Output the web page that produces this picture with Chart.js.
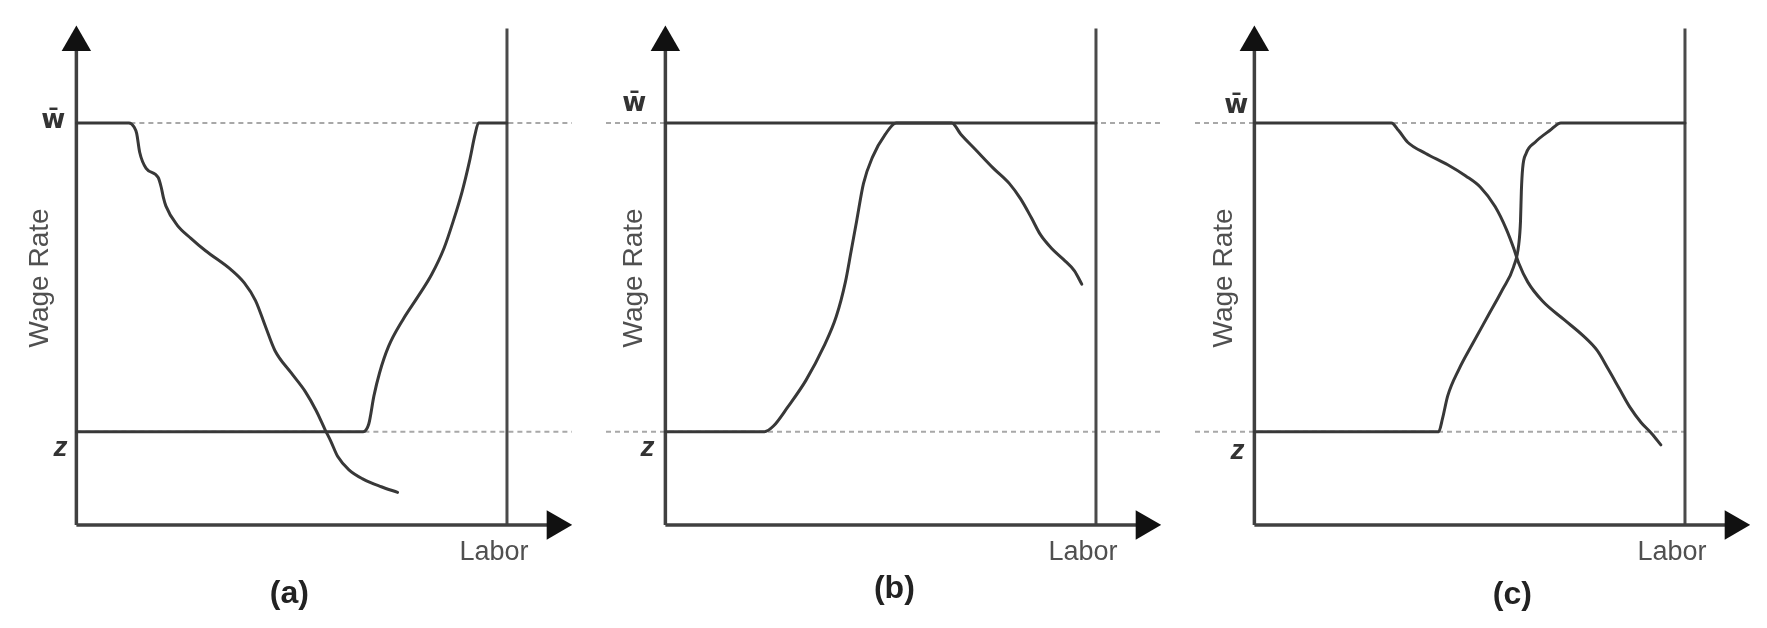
<!DOCTYPE html>
<html>
<head>
<meta charset="utf-8">
<script src="https://cdn.jsdelivr.net/npm/chart.js@4.4.1/dist/chart.umd.min.js"></script>
<style>
html,body{margin:0;padding:0;background:#fff;}
#wrap{display:flex;width:1767px;height:628px;overflow:hidden;}
canvas{display:block;}
</style>
</head>
<body>
<div id="wrap">
<canvas id="pa" width="589" height="628"></canvas>
<canvas id="pb" width="589" height="628"></canvas>
<canvas id="pc" width="589" height="628"></canvas>
</div>
<script>
// ---------- data ----------
const panelNames = ['(a)', '(b)', '(c)'];
const yTickValues = [100, 23.2];          // w-bar level, z level
const yTickLabels = ['w\u0304', 'z'];
const yTitle = 'Wage Rate';
const xTitle = 'Labor';
const laborMax = 100;                      // right vertical line

// panel (a)
const aDownX = [0, 12.2, 13.4, 14.0, 14.7, 16.2, 19.0, 19.7, 20.2, 20.8, 23.4, 26.6, 30.0, 35.9, 39.0, 41.6, 44.0, 46.1, 49.9, 53.2, 55.7, 57.8, 59.1, 60.7, 63.3, 66.6, 70.8, 74.6];
const aDownY = [100, 100, 99.0, 97.4, 92.7, 88.7, 86.4, 84.0, 81.5, 79.3, 74.6, 71.3, 68.2, 63.5, 60.2, 55.8, 49.1, 43.4, 37.8, 33.1, 28.4, 23.6, 20.8, 17.0, 13.7, 11.4, 9.5, 8.1];
const aUpX = [0, 66.6, 67.9, 69.1, 70.4, 72.5, 75.8, 79.2, 82.5, 85.4, 87.5, 89.6, 91.3, 92.6, 93.4, 100];
const aUpY = [23.2, 23.2, 25.1, 32.1, 37.8, 44.4, 51.0, 56.6, 62.3, 68.9, 75.5, 83.0, 90.5, 97.2, 100, 100];

// panel (b)
const bUpX = [0, 23.0, 25.1, 28.4, 32.6, 36.8, 39.7, 41.8, 43.1, 44.4, 46.0, 48.1, 51.1, 53.6, 100];
const bUpY = [23.2, 23.2, 24.6, 29.3, 35.9, 44.4, 51.9, 60.4, 67.9, 75.5, 84.9, 91.5, 97.2, 100, 100];
const bDownX = [0, 66.5, 68.6, 72.0, 76.2, 79.9, 82.5, 85.0, 87.1, 89.6, 92.5, 95.0, 96.7];
const bDownY = [100, 100, 97.2, 93.4, 88.7, 84.9, 81.1, 76.4, 72.2, 68.9, 66.0, 63.2, 59.9];

// panel (c)
const cDownX = [0, 31.8, 33.5, 35.6, 39.8, 44.9, 49.1, 52.5, 55.9, 58.5, 60.2, 61.4, 63.5, 66.9, 72.0, 76.2, 79.6, 82.2, 84.7, 87.2, 89.8, 92.3, 94.4];
const cDownY = [100, 100, 98.1, 95.2, 92.4, 89.6, 86.8, 84.0, 79.2, 73.6, 68.9, 65.1, 60.4, 55.7, 51.0, 47.2, 43.4, 38.7, 34.0, 29.3, 25.5, 22.7, 19.9];
const cUpX = [0, 42.8, 43.7, 44.9, 47.5, 50.8, 54.2, 57.6, 60.2, 61.4, 61.8, 62.0, 62.3, 63.1, 65.2, 68.6, 71.2, 100];
const cUpY = [23.2, 23.2, 26.5, 32.1, 38.7, 45.3, 51.9, 58.5, 64.2, 69.8, 75.5, 83.0, 88.7, 92.4, 95.2, 98.1, 100, 100];

// ---------- layout / style ----------
const X_MIN = -13.79, X_MAX = 115.10;   // canvas edges in labor units
const Y_MIN = -21.41, Y_MAX = 126.35;   // canvas edges in wage units
const AXIS_ARROW_X = 111.2, AXIS_ARROW_Y = 120.0, RIGHT_TOP = 123.5;
const INK = '#383838';

const panelLayout = [
  {id:'pa', curves:[[aDownX,aDownY],[aUpX,aUpY]], dotFrom:0, dotTo:X_MAX,
   w:[-23, 5], z:[-16, 24], wage:-36, name:[213, 69]},
  {id:'pb', curves:[[bUpX,bUpY],[bDownX,bDownY]], dotFrom:X_MIN, dotTo:X_MAX,
   w:[-31, -12], z:[-18, 24.5], wage:-31, name:[229, 64]},
  {id:'pc', curves:[[cDownX,cDownY],[cUpX,cUpY]], dotFrom:X_MIN, dotTo:laborMax,
   w:[-18, -10], z:[-17, 27], wage:-30, name:[258, 70]}
];

function pts(xs, ys) { return xs.map((v, i) => ({x: v, y: ys[i]})); }

const textPlugin = {
  id: 'panelText',
  afterDatasetsDraw(chart, args, o) {
    const ctx = chart.ctx, xs = chart.scales.x, ys = chart.scales.y;
    const ax = xs.getPixelForValue(0), ay = ys.getPixelForValue(0);
    const wy = ys.getPixelForValue(yTickValues[0]);
    const zy = ys.getPixelForValue(yTickValues[1]);
    const rx = xs.getPixelForValue(laborMax);
    ctx.save();
    ctx.textAlign = 'center';
    // y title
    ctx.fillStyle = '#505050';
    ctx.font = '28px "Liberation Sans", Arial, sans-serif';
    ctx.textBaseline = 'middle';
    ctx.save();
    ctx.translate(ax + o.wage, ay - 247);
    ctx.rotate(-Math.PI / 2);
    ctx.fillText(yTitle, 0, 0);
    ctx.restore();
    // x title
    ctx.font = '27px "Liberation Sans", Arial, sans-serif';
    ctx.fillText(xTitle, rx - 13, ay + 28);
    // panel name
    ctx.fillStyle = '#222';
    ctx.font = 'bold 32px "Liberation Sans", Arial, sans-serif';
    ctx.fillText(o.name_text, ax + o.name[0], ay + o.name[1]);
    // tick labels
    ctx.fillStyle = '#333';
    ctx.textBaseline = 'alphabetic';
    ctx.font = 'bold 26px "DejaVu Sans", "Liberation Sans", sans-serif';
    ctx.fillText(yTickLabels[0], ax + o.w[0], wy + o.w[1]);
    ctx.font = 'italic bold 28px "Liberation Sans", Arial, sans-serif';
    ctx.fillText(yTickLabels[1], ax + o.z[0], zy + o.z[1]);
    ctx.restore();
  }
};

panelLayout.forEach((p, idx) => {
  const datasets = [];
  // dotted reference lines
  yTickValues.forEach(v => datasets.push({
    data: [{x: p.dotFrom, y: v}, {x: p.dotTo, y: v}],
    showLine: true, borderColor: '#a8a8a8', borderWidth: 2, borderDash: [5, 4],
    pointRadius: 0, order: 4
  }));
  // axes + right vertical line
  datasets.push({data: [{x: 0, y: 0}, {x: 0, y: AXIS_ARROW_Y}], showLine: true,
    borderColor: '#404040', borderWidth: 3.5, pointRadius: 0, order: 3});
  datasets.push({data: [{x: 0, y: 0}, {x: AXIS_ARROW_X, y: 0}], showLine: true,
    borderColor: '#404040', borderWidth: 3.5, pointRadius: 0, order: 3});
  datasets.push({data: [{x: laborMax, y: 0}, {x: laborMax, y: RIGHT_TOP}], showLine: true,
    borderColor: '#4a4a4a', borderWidth: 3, pointRadius: 0, order: 3});
  // arrow heads
  datasets.push({data: [{x: 0, y: AXIS_ARROW_Y}], showLine: false, pointStyle: 'triangle',
    pointRadius: 17, pointRotation: 0, pointBackgroundColor: '#111', pointBorderWidth: 0, order: 2});
  datasets.push({data: [{x: AXIS_ARROW_X, y: 0}], showLine: false, pointStyle: 'triangle',
    pointRadius: 17, pointRotation: 90, pointBackgroundColor: '#111', pointBorderWidth: 0, order: 2});
  // curves
  p.curves.forEach(([xs, ys]) => datasets.push({
    data: pts(xs, ys), showLine: true, borderColor: INK, borderWidth: 3,
    cubicInterpolationMode: 'monotone', borderJoinStyle: 'round', borderCapStyle: 'round',
    pointRadius: 0, order: 1
  }));

  new Chart(document.getElementById(p.id), {
    type: 'scatter',
    data: {datasets},
    options: {
      responsive: false, animation: false, devicePixelRatio: 1,
      layout: {padding: 0},
      events: [],
      plugins: {
        legend: {display: false}, tooltip: {enabled: false},
        panelText: Object.assign({name_text: panelNames[idx]}, p)
      },
      scales: {
        x: {type: 'linear', display: false, min: X_MIN, max: X_MAX},
        y: {type: 'linear', display: false, min: Y_MIN, max: Y_MAX}
      }
    },
    plugins: [textPlugin]
  });
});
</script>
</body>
</html>
